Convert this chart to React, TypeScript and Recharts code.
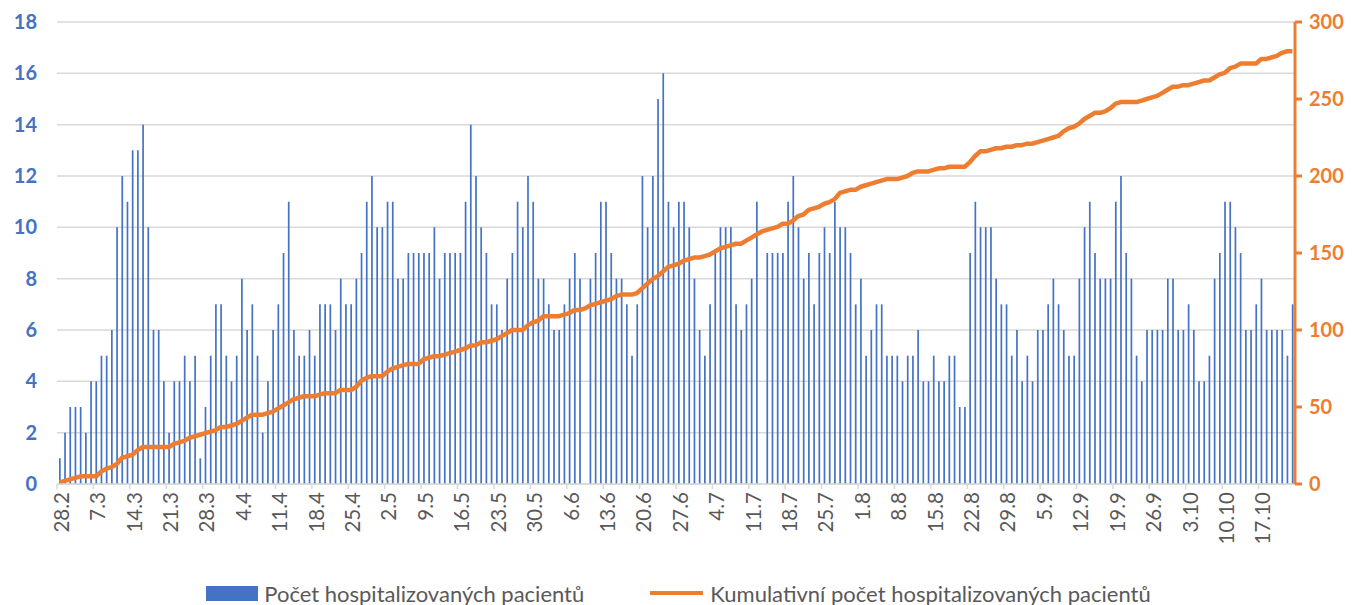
import React from "react";
import {
  ComposedChart,
  Bar,
  Line,
  XAxis,
  YAxis,
  CartesianGrid,
  Legend,
} from "recharts";

// daily hospitalised patients (28.2 - 23.10)
const hospitalized = [
  1, 2, 3, 3, 3, 2, 4, 4, 5, 5, 6, 10, 12, 11, 13, 13, 14, 10, 6, 6,
  4, 2, 4, 4, 5, 4, 5, 1, 3, 5, 7, 7, 5, 4, 5, 8, 6, 7, 5, 2,
  4, 6, 7, 9, 11, 6, 5, 5, 6, 5, 7, 7, 7, 6, 8, 7, 7, 8, 9, 11,
  12, 10, 10, 11, 11, 8, 8, 9, 9, 9, 9, 9, 10, 8, 9, 9, 9, 9, 11, 14,
  12, 10, 9, 7, 7, 6, 8, 9, 11, 10, 12, 11, 8, 8, 7, 6, 6, 7, 8, 9,
  8, 0, 8, 9, 11, 11, 9, 8, 8, 7, 5, 7, 12, 10, 12, 15, 16, 11, 10, 11,
  11, 10, 8, 6, 5, 7, 9, 10, 10, 10, 7, 6, 7, 8, 11, 0, 9, 9, 9, 9,
  11, 12, 10, 8, 9, 7, 9, 10, 9, 11, 10, 10, 9, 7, 8, 5, 6, 7, 7, 5,
  5, 5, 4, 5, 5, 6, 4, 4, 5, 4, 4, 5, 5, 3, 3, 9, 11, 10, 10, 10,
  8, 7, 7, 5, 6, 4, 5, 4, 6, 6, 7, 8, 7, 6, 5, 5, 8, 10, 11, 9,
  8, 8, 8, 11, 12, 9, 8, 5, 4, 6, 6, 6, 6, 8, 8, 6, 6, 7, 6, 4,
  4, 5, 8, 9, 11, 11, 10, 9, 6, 6, 7, 8, 6, 6, 6, 6, 5, 7,
];

// cumulative line (right axis)
const cumulative = [
  1, 2, 3, 4, 5, 5, 5, 5, 8, 10, 11, 13, 17, 18, 19, 22, 24, 24, 24, 24,
  24, 24, 26, 27, 28, 30, 31, 32, 33, 34, 35, 37, 37, 38, 39, 41, 43, 45, 45, 45,
  46, 47, 49, 51, 53, 55, 56, 57, 57, 57, 58, 59, 59, 59, 61, 61, 61, 63, 67, 69,
  70, 70, 70, 73, 75, 76, 77, 78, 78, 78, 81, 82, 83, 83, 84, 85, 86, 87, 88, 90,
  90, 92, 92, 93, 94, 96, 98, 100, 100, 100, 103, 105, 106, 109, 109, 109, 109, 110, 111, 113,
  113, 114, 116, 117, 118, 119, 120, 122, 123, 123, 123, 124, 127, 130, 133, 135, 138, 141, 142, 143,
  145, 146, 147, 147, 148, 149, 151, 153, 154, 155, 156, 156, 158, 160, 162, 164, 165, 166, 167, 169,
  169, 171, 174, 175, 178, 179, 180, 182, 183, 185, 189, 190, 191, 191, 193, 194, 195, 196, 197, 198,
  198, 198, 199, 200, 202, 203, 203, 203, 204, 205, 205, 206, 206, 206, 206, 209, 213, 216, 216, 217,
  218, 218, 219, 219, 220, 220, 221, 221, 222, 223, 224, 225, 226, 229, 231, 232, 234, 237, 239, 241,
  241, 242, 244, 247, 248, 248, 248, 248, 249, 250, 251, 252, 254, 256, 258, 258, 259, 259, 260, 261,
  262, 262, 264, 266, 267, 270, 271, 273, 273, 273, 273, 276, 276, 277, 278, 280, 281, 281,
];

const leftTicks = [0, 2, 4, 6, 8, 10, 12, 14, 16, 18];
const rightTicks = [0, 50, 100, 150, 200, 250, 300];

// one category per day, starting 28.2
const dates: string[] = [];
for (let i = 0; i < hospitalized.length; i++) {
  const d = new Date(2021, 1, 28 + i);
  dates.push(`${d.getDate()}.${d.getMonth() + 1}`);
}

const data = dates.map((date, i) => ({
  date,
  count: hospitalized[i],
  cum: cumulative[i],
}));

const BLUE = "#4472C4";
const ORANGE = "#ED7D31";
const GRID = "#D9D9D9";
const TEXT = "#595959";
const FONT = "Lato, 'Open Sans', sans-serif";

const PLOT_LEFT = 57;
const PLOT_RIGHT = 1295;
const BAND = (PLOT_RIGHT - PLOT_LEFT) / hospitalized.length;

function DateTick(props: any) {
  const { x, y, payload } = props;
  const tx = x - BAND / 2;
  return (
    <g>
      <line x1={tx} y1={y - 8} x2={tx} y2={y - 3} stroke={GRID} strokeWidth={1.5} />
      <text
        x={x + 2}
        y={y}
        transform={`rotate(-90, ${x + 2}, ${y})`}
        textAnchor="end"
        dy="0.35em"
        fill={TEXT}
        fontSize={20.5}
        fontFamily={FONT}
      >
        {payload.value}
      </text>
    </g>
  );
}

function LegendBox() {
  return (
    <div
      style={{
        height: 40,
        display: "flex",
        justifyContent: "center",
        alignItems: "center",
        paddingTop: 16,
        boxSizing: "border-box",
        fontFamily: FONT,
        fontSize: 22,
        color: TEXT,
      }}
    >
      <span style={{ display: "inline-block", width: 52, height: 15, background: BLUE, marginRight: 6 }} />
      <span style={{ marginRight: 66 }}>Počet hospitalizovaných pacientů</span>
      <span style={{ display: "inline-block", width: 53, height: 4, background: ORANGE, marginRight: 7 }} />
      <span>Kumulativní počet hospitalizovaných pacientů</span>
    </div>
  );
}

export default function App() {
  return (
    <div style={{ position: "absolute", left: 0, top: 0, background: "#fff", fontFamily: FONT }}>
      <ComposedChart
        width={1357}
        height={605}
        data={data}
        margin={{ top: 22, right: 0, bottom: 0, left: 0 }}
      >
        <CartesianGrid yAxisId="left" vertical={false} stroke={GRID} strokeWidth={1.5} />
        <XAxis
          dataKey="date"
          interval={6}
          height={81}
          tickLine={false}
          tickSize={6}
          tickMargin={2}
          axisLine={{ stroke: GRID, strokeWidth: 1.5 }}
          tick={<DateTick />}
        />
        <YAxis
          yAxisId="left"
          orientation="left"
          width={57}
          domain={[0, 18]}
          ticks={leftTicks}
          axisLine={false}
          tickLine={false}
          tickSize={6}
          tickMargin={14}
          tick={{ fill: BLUE, fontSize: 20, fontWeight: 700, fontFamily: FONT }}
        />
        <YAxis
          yAxisId="right"
          orientation="right"
          width={62}
          domain={[0, 300]}
          ticks={rightTicks}
          axisLine={{ stroke: ORANGE, strokeWidth: 3 }}
          tickLine={{ stroke: ORANGE, strokeWidth: 3 }}
          tickSize={7}
          tickMargin={7}
          tick={{ fill: ORANGE, fontSize: 20, fontWeight: 700, fontFamily: FONT }}
        />
        <Legend verticalAlign="bottom" content={<LegendBox />} wrapperStyle={{ left: 0, width: 1357 }} />
        <Bar
          yAxisId="left"
          dataKey="count"
          fill={BLUE}
          barSize={1.7}
          isAnimationActive={false}
        />
        <Line
          yAxisId="right"
          dataKey="cum"
          type="linear"
          stroke={ORANGE}
          strokeWidth={4.5}
          strokeLinejoin="round"
          dot={false}
          activeDot={false}
          isAnimationActive={false}
        />
      </ComposedChart>
    </div>
  );
}
